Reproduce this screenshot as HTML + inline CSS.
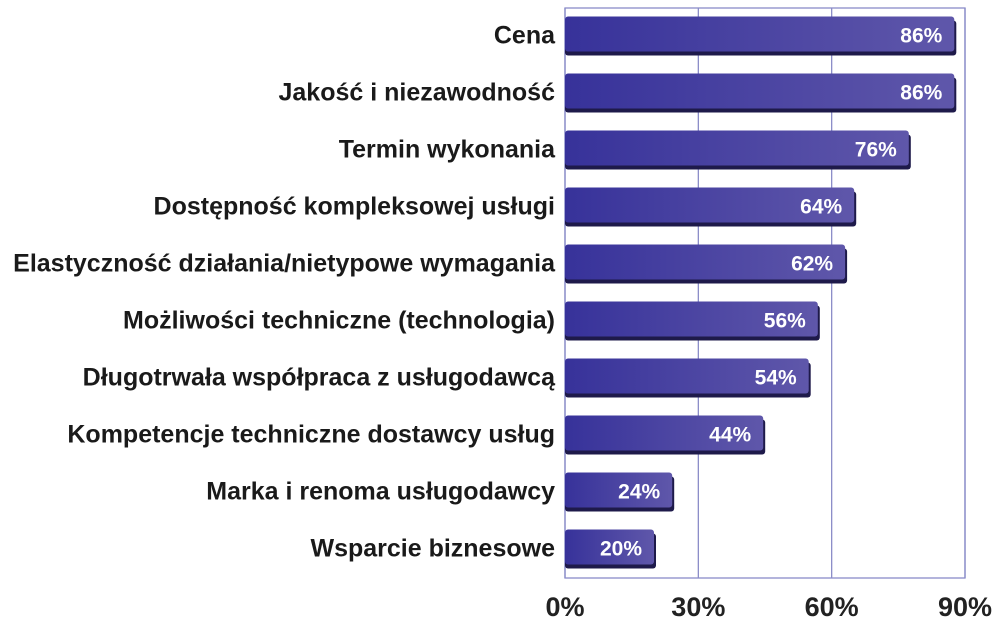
<!DOCTYPE html>
<html><head><meta charset="utf-8"><style>
body{margin:0;background:#fff;}
svg{display:block;font-family:"Liberation Sans",Arial,sans-serif;font-weight:bold;}
</style></head><body>
<svg width="999" height="624">
<defs>
<linearGradient id="g" x1="0" x2="1" y1="0" y2="0"><stop offset="0" stop-color="#37329a"/><stop offset="1" stop-color="#5f57aa"/></linearGradient>
</defs>
<g id="grid"></g>
<g id="bars"></g>
</svg>
<script>
const categories=["Cena","Jakość i niezawodność","Termin wykonania","Dostępność kompleksowej usługi","Elastyczność działania/nietypowe wymagania","Możliwości techniczne (technologia)","Długotrwała współpraca z usługodawcą","Kompetencje techniczne dostawcy usług","Marka i renoma usługodawcy","Wsparcie biznesowe"];
const values=[86,86,76,64,62,56,54,44,24,20];
const ticks=[0,30,60,90];
const tickLabels=["0%","30%","60%","90%"];
const NS="http://www.w3.org/2000/svg";
const L=565,R=965,T=8,B=578;
const gx=v=>L+(R-L)*v/90;
const bx=v=>L+v*4.55;
const band=(B-T)/categories.length;
function mk(t,a,p){const e=document.createElementNS(NS,t);for(const k in a)e.setAttribute(k,a[k]);p.appendChild(e);return e;}
const grid=document.getElementById('grid'),bars=document.getElementById('bars');
const frame=mk('rect',{x:L,y:T,width:R-L,height:B-T,fill:'none',stroke:'#8a8cc8','stroke-width':1.3},grid);


ticks.forEach((t,i)=>{
  const ln=mk('line',{x1:gx(t),x2:gx(t),y1:T,y2:B,stroke:'#8a8cc8','stroke-width':1.3},grid);
  
  
  const tx=mk('text',{x:gx(t),y:616,'text-anchor':'middle','font-size':27,fill:'#222'},grid);
  tx.textContent=tickLabels[i];
  
  
});
categories.forEach((c,i)=>{
  const cy=T+band*(i+0.5)-1;
  const y0=cy-19,h=39,w=bx(values[i])-L;
  const sh=mk('rect',{x:L,y:y0+4,width:w,height:h-4,rx:3,fill:'#1e1a4a'},bars);
  
  
  const r=mk('rect',{x:L,y:y0,width:w-2,height:h-4,rx:3,fill:'url(#g)'},bars);
  
  
  const v=mk('text',{x:L+w-14,y:cy+7,'text-anchor':'end','font-size':21,fill:'#fff'},bars);
  v.textContent=values[i]+'%';
  
  
  const lb=mk('text',{x:555,y:cy+8,'text-anchor':'end','font-size':25,fill:'#1a1a1a'},bars);
  lb.textContent=c;
  
  
});
</script>
</body></html>
